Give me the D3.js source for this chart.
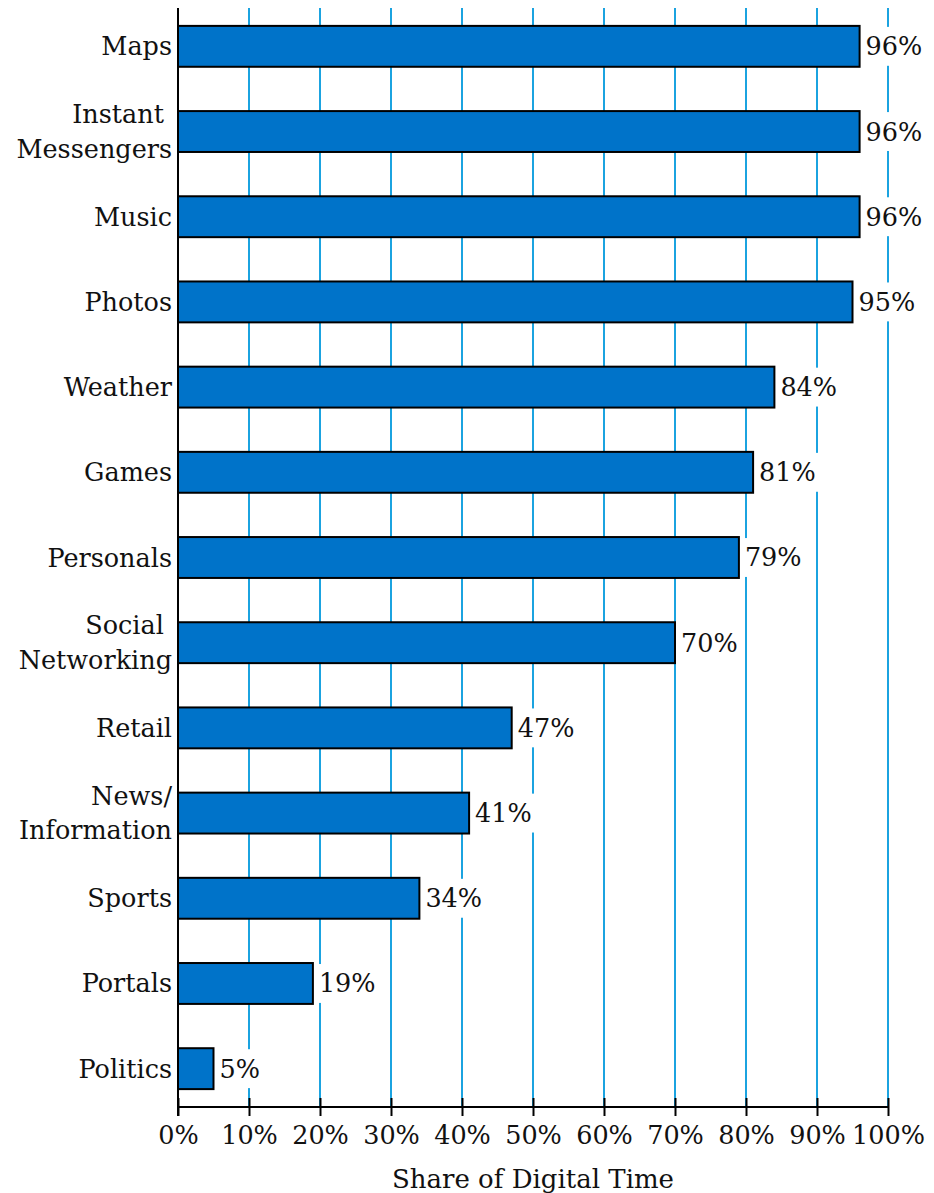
<!DOCTYPE html>
<html>
<head>
<meta charset="utf-8">
<script src="https://cdn.jsdelivr.net/npm/d3@7"></script>
<style>
  body { margin: 0; background: #fff; }
  text { font-family: "DejaVu Serif", serif; fill: #111; }
</style>
</head>
<body>
<svg id="chart" width="934" height="1193"></svg>
<script>
// categories (top to bottom), "|" marks a line break in the label
const categories = ["Maps", "Instant\u00a0|Messengers", "Music", "Photos", "Weather", "Games",
  "Personals", "Social\u00a0|Networking", "Retail", "News/|Information", "Sports", "Portals", "Politics"];
const shares = [96, 96, 96, 95, 84, 81, 79, 70, 47, 41, 34, 19, 5];
const xTicks = [0, 10, 20, 30, 40, 50, 60, 70, 80, 90, 100];

const data = categories.map((c, i) => ({cat: c, value: shares[i]}));

const svg = d3.select('#chart');
const margin = {top: 8, left: 178, right: 46, bottom: 86};
const width = 934, height = 1193;

const xScale = d3.scaleLinear()
  .domain([0, 100])
  .range([margin.left, width - margin.right]);

const yScale = d3.scaleBand()
  .domain(categories)
  .range([margin.top, height - margin.bottom])
  .paddingInner(0.52)
  .paddingOuter(0.21);

const axisY = height - margin.bottom;

// gridlines
svg.append('g')
  .selectAll('line')
  .data(xTicks.filter(d => d > 0))
  .join('line')
    .attr('x1', d => xScale(d))
    .attr('x2', d => xScale(d))
    .attr('y1', margin.top)
    .attr('y2', axisY)
    .attr('stroke', '#1ba3e0')
    .attr('stroke-width', 2);

// bars
svg.append('g')
  .selectAll('rect')
  .data(data)
  .join('rect')
    .attr('x', xScale(0))
    .attr('y', d => yScale(d.cat))
    .attr('width', d => xScale(d.value) - xScale(0))
    .attr('height', yScale.bandwidth())
    .attr('fill', '#0073c9')
    .attr('stroke', '#000')
    .attr('stroke-width', 2);

// value labels with white backing
const vl = svg.append('g')
  .selectAll('g')
  .data(data)
  .join('g')
    .attr('transform', d => `translate(${xScale(d.value) + 2},${yScale(d.cat)})`);

vl.append('rect')
  .attr('y', 1)
  .attr('height', yScale.bandwidth() - 2)
  .attr('fill', '#fff');

vl.append('text')
  .attr('x', 4)
  .attr('y', yScale.bandwidth() / 2 + 9)
  .style('font-size', '25.5px')
  .text(d => d.value + '%');

vl.each(function() {
  const t = d3.select(this).select('text').node().getComputedTextLength();
  d3.select(this).select('rect').attr('width', t + 7);
});

// y axis line
svg.append('line')
  .attr('x1', xScale(0)).attr('x2', xScale(0))
  .attr('y1', margin.top).attr('y2', axisY + 9)
  .attr('stroke', '#000').attr('stroke-width', 2);

// category labels
svg.append('g')
  .selectAll('text')
  .data(categories)
  .join('text')
    .attr('text-anchor', 'end')
    .attr('x', xScale(0) - 6)
    .attr('y', d => yScale(d) + yScale.bandwidth() / 2 + 9)
    .style('font-size', '25.5px')
    .each(function(d) {
      const lines = d.split('|');
      const el = d3.select(this);
      lines.forEach((ln, i) => {
        el.append('tspan')
          .attr('x', xScale(0) - 6)
          .attr('dy', i === 0 ? -(lines.length - 1) * 17.25 : 34.5)
          .text(ln);
      });
    });

// x axis
const xAxis = svg.append('g')
  .attr('transform', `translate(0,${axisY})`)
  .call(d3.axisBottom(xScale)
    .tickValues(xTicks)
    .tickFormat(d => d + '%')
    .tickSize(9)
    .tickPadding(10));

xAxis.select('.domain').attr('stroke', '#000').attr('stroke-width', 2)
  .attr('d', `M${xScale(0)},0H${xScale(100)}`);
xAxis.selectAll('.tick line').attr('stroke', '#000').attr('stroke-width', 2)
  .attr('y1', -9).attr('y2', 9);
xAxis.selectAll('.tick text')
  .style('font-family', '"DejaVu Serif", serif')
  .style('font-size', '25.5px')
  .attr('fill', '#111');

// axis title
svg.append('text')
  .attr('x', (xScale(0) + xScale(100)) / 2)
  .attr('y', 1188)
  .attr('text-anchor', 'middle')
  .style('font-size', '26px')
  .text('Share of Digital Time');
</script>
</body>
</html>
